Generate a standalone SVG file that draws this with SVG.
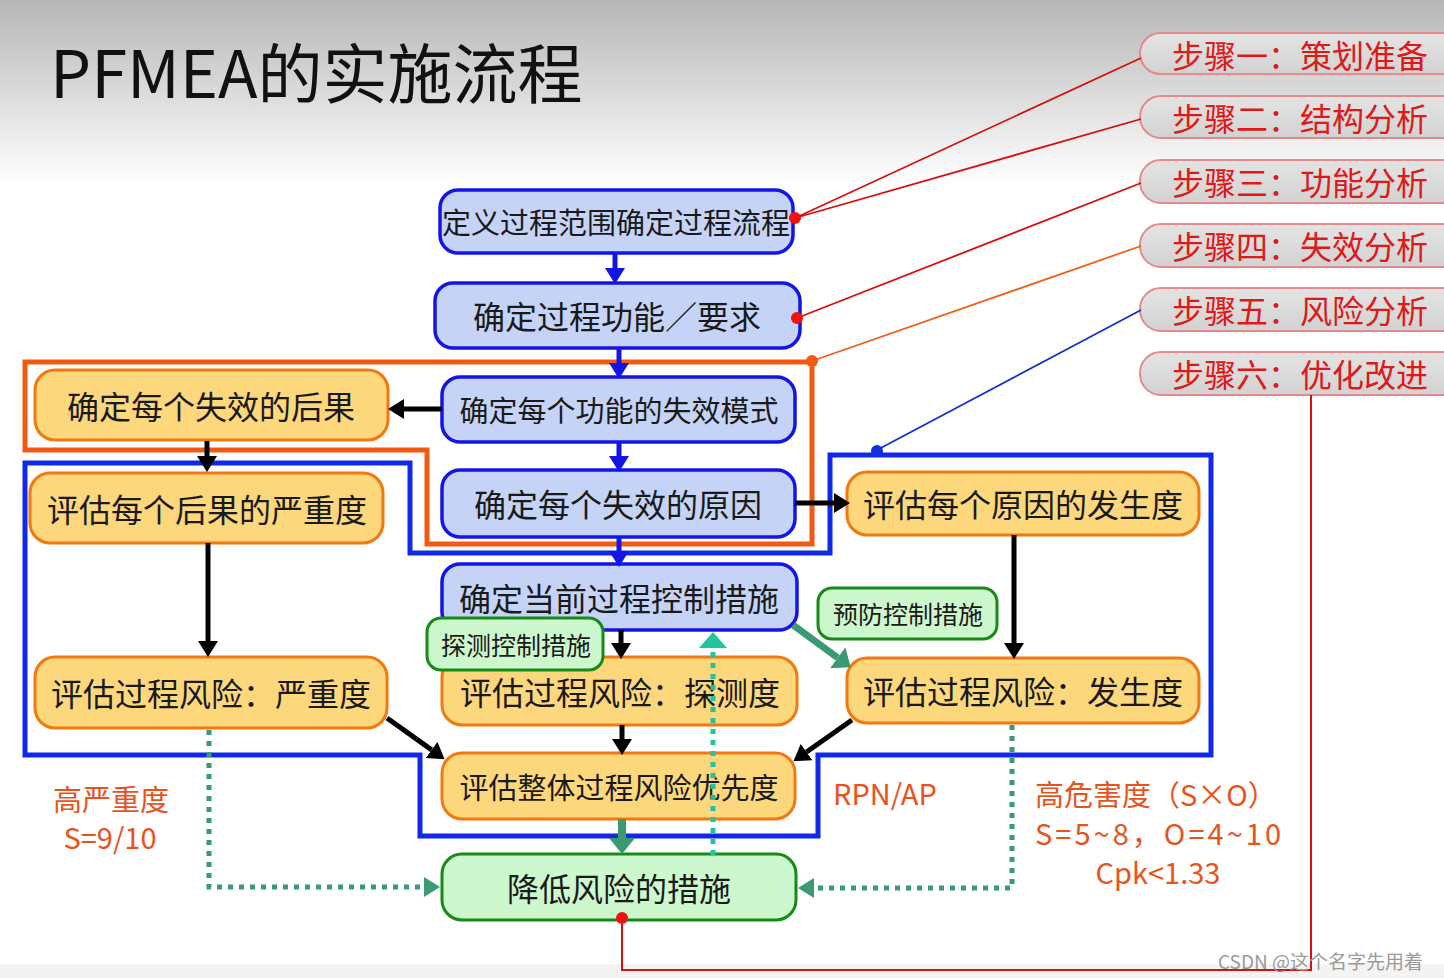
<svg xmlns="http://www.w3.org/2000/svg" width="1444" height="978" viewBox="0 0 1444 978">
<defs>
<linearGradient id="bg" x1="0" y1="0" x2="0" y2="1">
<stop offset="0" stop-color="#b6b6b6"/>
<stop offset="1" stop-color="#ffffff"/>
</linearGradient>
<linearGradient id="pill" x1="0" y1="0" x2="0" y2="1">
<stop offset="0" stop-color="#e4e4e4"/>
<stop offset="1" stop-color="#d2d2d2"/>
</linearGradient>
<marker id="mBlack" markerUnits="userSpaceOnUse" viewBox="0 -10 16 20" refX="0" refY="0" markerWidth="16" markerHeight="20" orient="auto"><path d="M0,-10 L16,0 L0,10 z" fill="#000"/></marker>
<marker id="mBlue" markerUnits="userSpaceOnUse" viewBox="0 -10 16 20" refX="0" refY="0" markerWidth="16" markerHeight="20" orient="auto"><path d="M0,-10 L16,0 L0,10 z" fill="#1414e6"/></marker>
<marker id="mGreen" markerUnits="userSpaceOnUse" viewBox="0 -13 16 26" refX="0" refY="0" markerWidth="16" markerHeight="26" orient="auto"><path d="M0,-13 L16,0 L0,13 z" fill="#3a9a72"/></marker>
<marker id="mGreenS" markerUnits="userSpaceOnUse" viewBox="0 -10 16 20" refX="0" refY="0" markerWidth="16" markerHeight="20" orient="auto"><path d="M0,-10 L16,0 L0,10 z" fill="#3a9a72"/></marker>
<marker id="mTeal" markerUnits="userSpaceOnUse" viewBox="0 -14 16 28" refX="0" refY="0" markerWidth="16" markerHeight="28" orient="auto"><path d="M0,-14 L16,0 L0,14 z" fill="#22c4a0"/></marker>
<style>
.blue{fill:#c5d4f6;stroke:#1414e6;stroke-width:3.5}
.yellow{fill:#fdd77c;stroke:#f27812;stroke-width:3}
.green{fill:#cdf7cd;stroke:#178a17;stroke-width:3}
.pill{fill:url(#pill);stroke:#e48a8a;stroke-width:2}
.t{font-family:"Noto Sans CJK SC","Liberation Sans",sans-serif;fill:#1a1a1a;text-anchor:middle;dominant-baseline:central}
.pt{font-family:"Noto Sans CJK SC","Liberation Sans",sans-serif;fill:#e01818;font-size:32px;dominant-baseline:central}
.lbl{font-family:"Noto Sans CJK SC","Liberation Sans",sans-serif;fill:#e8531c;font-size:29px;dominant-baseline:central}
.ab{stroke:#000;stroke-width:5;fill:none;marker-end:url(#mBlack)}
.au{stroke:#1414e6;stroke-width:5;fill:none;marker-end:url(#mBlue)}
.dot{stroke:#3a9a72;stroke-width:5;fill:none;stroke-dasharray:5 6;marker-end:url(#mGreenS)}
</style>
</defs>
<rect x="0" y="0" width="1444" height="978" fill="#ffffff"/>
<rect x="0" y="0" width="1444" height="185" fill="url(#bg)"/>
<rect x="0" y="964" width="1444" height="14" fill="#f3f3f3"/>
<text x="50" y="70" font-family="Noto Sans CJK SC, Liberation Sans, sans-serif" font-size="65" fill="#111" dominant-baseline="central">PFMEA的实施流程</text>

<g id="frames">
<path d="M25,362 H812 V544 H427 V450 H25 Z" fill="none" stroke="#f25a14" stroke-width="5"/>
<path d="M25,463 H410 V553 H830 V455 H1211 V755 H818 V836 H420 V755 H25 Z" fill="none" stroke="#1028e8" stroke-width="5"/>
</g>

<g id="steps">
<g id="step1"><rect class="pill" x="1140" y="33" width="340" height="41" rx="20.5"/><text class="pt" x="1172" y="54">步骤一：策划准备</text></g>
<g id="step2"><rect class="pill" x="1140" y="96" width="340" height="42" rx="21"/><text class="pt" x="1172" y="117">步骤二：结构分析</text></g>
<g id="step3"><rect class="pill" x="1140" y="160" width="340" height="43" rx="21"/><text class="pt" x="1172" y="181">步骤三：功能分析</text></g>
<g id="step4"><rect class="pill" x="1140" y="224" width="340" height="43" rx="21"/><text class="pt" x="1172" y="245">步骤四：失效分析</text></g>
<g id="step5"><rect class="pill" x="1140" y="288" width="340" height="43" rx="21"/><text class="pt" x="1172" y="309">步骤五：风险分析</text></g>
<g id="step6"><rect class="pill" x="1140" y="352" width="340" height="43" rx="21"/><text class="pt" x="1172" y="373">步骤六：优化改进</text></g>
</g>

<g id="n1"><rect class="blue" x="440" y="190" width="353" height="63" rx="18"/><text class="t" x="616" y="221" font-size="29">定义过程范围确定过程流程</text></g>
<g id="n2"><rect class="blue" x="435" y="283" width="365" height="65" rx="18"/><text class="t" x="617" y="315" font-size="32">确定过程功能／要求</text></g>
<g id="n3"><rect class="yellow" x="35" y="370" width="353" height="70" rx="20"/><text class="t" x="211" y="405" font-size="32">确定每个失效的后果</text></g>
<g id="n4"><rect class="blue" x="442" y="377" width="353" height="65" rx="18"/><text class="t" x="619" y="409" font-size="29">确定每个功能的失效模式</text></g>
<g id="n5"><rect class="blue" x="442" y="470" width="353" height="67" rx="18"/><text class="t" x="618" y="503" font-size="32">确定每个失效的原因</text></g>
<g id="n6"><rect class="yellow" x="30" y="473" width="353" height="70" rx="20"/><text class="t" x="207" y="508" font-size="32">评估每个后果的严重度</text></g>
<g id="n12"><rect class="yellow" x="847" y="472" width="352" height="63" rx="20"/><text class="t" x="1023" y="503" font-size="32">评估每个原因的发生度</text></g>
<g id="n8"><rect class="blue" x="442" y="564" width="355" height="66" rx="18"/><text class="t" x="619" y="597" font-size="32">确定当前过程控制措施</text></g>
<g id="n11"><rect class="green" x="818" y="588" width="179" height="51" rx="14"/><text class="t" x="908" y="613" font-size="25">预防控制措施</text></g>
<g id="n7"><rect class="yellow" x="35" y="657" width="352" height="71" rx="20"/><text class="t" x="211" y="692" font-size="32">评估过程风险：严重度</text></g>
<g id="n10"><rect class="yellow" x="442" y="657" width="355" height="68" rx="20"/><text class="t" x="620" y="691" font-size="32">评估过程风险：探测度</text></g>
<g id="n9"><rect class="green" x="427" y="618" width="176" height="52" rx="14"/><text class="t" x="516" y="644" font-size="25">探测控制措施</text></g>
<g id="n13"><rect class="yellow" x="847" y="658" width="352" height="65" rx="20"/><text class="t" x="1023" y="690" font-size="32">评估过程风险：发生度</text></g>
<g id="n14"><rect class="yellow" x="442" y="753" width="353" height="66" rx="20"/><text class="t" x="619" y="786" font-size="29">评估整体过程风险优先度</text></g>
<g id="n15"><rect class="green" x="442" y="854" width="354" height="66" rx="20"/><text class="t" x="619" y="887" font-size="32">降低风险的措施</text></g>

<g id="connectors">
<line class="au" x1="615" y1="254" x2="615" y2="268"/>
<line class="au" x1="619" y1="348" x2="619" y2="363"/>
<line class="au" x1="619" y1="442" x2="619" y2="456"/>
<line class="au" x1="619" y1="537" x2="619" y2="551"/>
<line class="ab" x1="442" y1="409" x2="404" y2="409"/>
<line class="ab" x1="207" y1="441" x2="207" y2="456"/>
<line class="ab" x1="208" y1="543" x2="208" y2="641"/>
<line class="ab" x1="795" y1="503" x2="834" y2="503"/>
<line class="ab" x1="1014" y1="535" x2="1014" y2="643"/>
<line class="ab" x1="621" y1="630" x2="621" y2="643"/>
<line class="ab" x1="622" y1="725" x2="622" y2="739"/>
<line class="ab" x1="387" y1="718" x2="431.6" y2="749.9"/>
<line class="ab" x1="852" y1="720" x2="806.5" y2="752"/>
<line x1="793" y1="625" x2="837.7" y2="657.7" stroke="#3a9a72" stroke-width="7" marker-end="url(#mGreen)"/>
<line x1="622" y1="819" x2="622" y2="838" stroke="#3a9a72" stroke-width="8" marker-end="url(#mGreen)"/>
<line x1="713" y1="855" x2="713" y2="648" stroke="#22c4a0" stroke-width="5" stroke-dasharray="5 6" marker-end="url(#mTeal)"/>
<path class="dot" d="M209,730 V887 H424"/>
<path class="dot" d="M1012,725 V888 H814"/>
<path d="M1311,395 V970 H622 V922" fill="none" stroke="#d41010" stroke-width="2"/>
<line x1="795" y1="218" x2="1141" y2="58" stroke="#d41010" stroke-width="1.8"/>
<line x1="795" y1="218" x2="1141" y2="119" stroke="#d41010" stroke-width="1.8"/>
<line x1="797" y1="318" x2="1141" y2="183" stroke="#d41010" stroke-width="1.8"/>
<line x1="812" y1="361" x2="1141" y2="246" stroke="#f06018" stroke-width="1.8"/>
<line x1="877" y1="450" x2="1141" y2="310" stroke="#1030d0" stroke-width="1.8"/>
<circle cx="795" cy="218" r="6" fill="#ee1111"/>
<circle cx="797" cy="318" r="6" fill="#ee1111"/>
<circle cx="812" cy="361" r="6" fill="#f25a14"/>
<circle cx="877" cy="451" r="6" fill="#1030e0"/>
<circle cx="622" cy="918" r="6" fill="#ee1111"/>
</g>

<g id="labels">
<text class="lbl" x="111" y="798" text-anchor="middle">高严重度</text>
<text class="lbl" x="110" y="836" text-anchor="middle">S=9/10</text>
<text class="lbl" x="833" y="792">RPN/AP</text>
<text class="lbl" x="1035" y="793">高危害度（S×O）</text>
<text class="lbl" x="1035" y="832" textLength="246" lengthAdjust="spacing">S=5~8，O=4~10</text>
<text class="lbl" x="1158" y="871" text-anchor="middle">Cpk&lt;1.33</text>
<text x="1218" y="960" font-family="Noto Sans CJK SC, Liberation Sans, sans-serif" font-size="19" fill="#9a9a9a" dominant-baseline="central">CSDN @这个名字先用着</text>
</g>
</svg>
